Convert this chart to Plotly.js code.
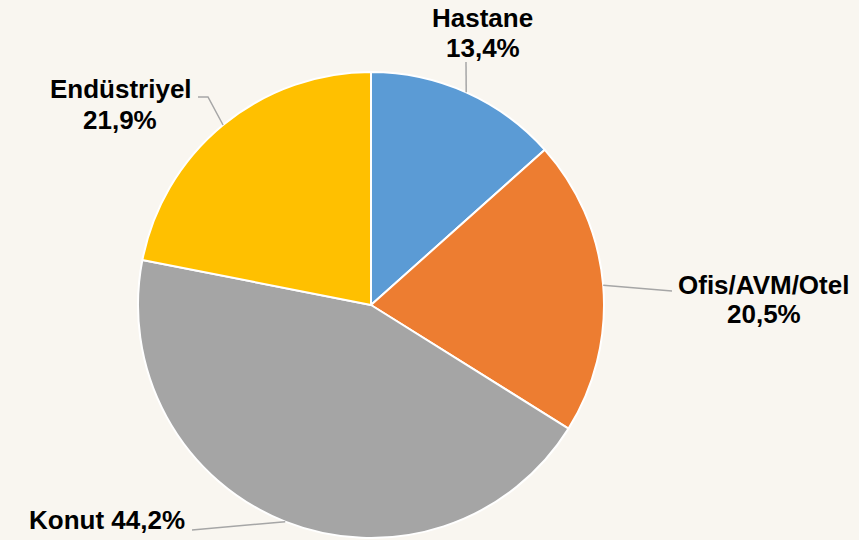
<!DOCTYPE html>
<html>
<head>
<meta charset="utf-8">
<script src="https://cdn.plot.ly/plotly-3.0.1.min.js"></script>
<style>html,body{margin:0;padding:0;background:#f9f6f0;}#chart{width:859px;height:540px;}</style>
</head>
<body>
<div id="chart"></div>
<script>
const categories = ["Hastane", "Ofis/AVM/Otel", "Konut", "Endüstriyel"];
const values = [13.4, 20.5, 44.2, 21.9];
const valueLabels = ["13,4%", "20,5%", "44,2%", "21,9%"];
const colors = ["#5B9BD5", "#ED7D31", "#A5A5A5", "#FFC000"];

const W = 859, H = 540;
const cx = 371, cy = 305, R = 233;
const px = x => x / W;
const py = y => 1 - y / H;

// label layout: pixel centers of each text line and leader start points
const labelPos = [
  {lines: [[categories[0], 482, 17], [valueLabels[0], 483, 47]], leader: [[466, 62]]},
  {lines: [[categories[1], 763, 284], [valueLabels[1], 764, 313]], leader: [[672, 291]]},
  {lines: [[categories[2] + " " + valueLabels[2], 107, 519]], leader: [[192, 530]]},
  {lines: [[categories[3], 121, 88], [valueLabels[3], 120, 119]], leader: [[198, 97], [208, 97]]}
];

const total = values.reduce((a, b) => a + b, 0);
let cum = 0;
const shapes = [];
const annotations = [];
values.forEach((v, i) => {
  const mid = (cum + v / 2) / total * 2 * Math.PI;
  cum += v;
  const ex = cx + R * Math.sin(mid);
  const ey = cy - R * Math.cos(mid);
  const pts = labelPos[i].leader.concat([[ex, ey]]);
  let path = "";
  pts.forEach((p, k) => { path += (k === 0 ? "M" : " L") + px(p[0]) + "," + py(p[1]); });
  shapes.push({type: "path", xref: "paper", yref: "paper", path: path,
    line: {color: "#a6a6a6", width: 1.5}});
  labelPos[i].lines.forEach(l => {
    annotations.push({xref: "paper", yref: "paper", x: px(l[1]), y: py(l[2] + 1),
      xanchor: "center", yanchor: "middle", showarrow: false, text: "<b>" + l[0] + "</b>",
      font: {family: "Liberation Sans, Arial, sans-serif", size: 26, color: "#000"}});
  });
});

const trace = {
  type: "pie",
  labels: categories,
  values: values,
  sort: false,
  direction: "clockwise",
  rotation: 0,
  textinfo: "none",
  hoverinfo: "label+percent",
  marker: {colors: colors, line: {color: "#ffffff", width: 2}},
  domain: {x: [px(cx - R), px(cx + R)], y: [py(cy + R), py(cy - R)]}
};

const layout = {
  width: W, height: H,
  margin: {l: 0, r: 0, t: 0, b: 0},
  paper_bgcolor: "#f9f6f0",
  showlegend: false,
  shapes: shapes,
  annotations: annotations
};

Plotly.newPlot("chart", [trace], layout, {displayModeBar: false, staticPlot: true});
</script>
</body>
</html>
